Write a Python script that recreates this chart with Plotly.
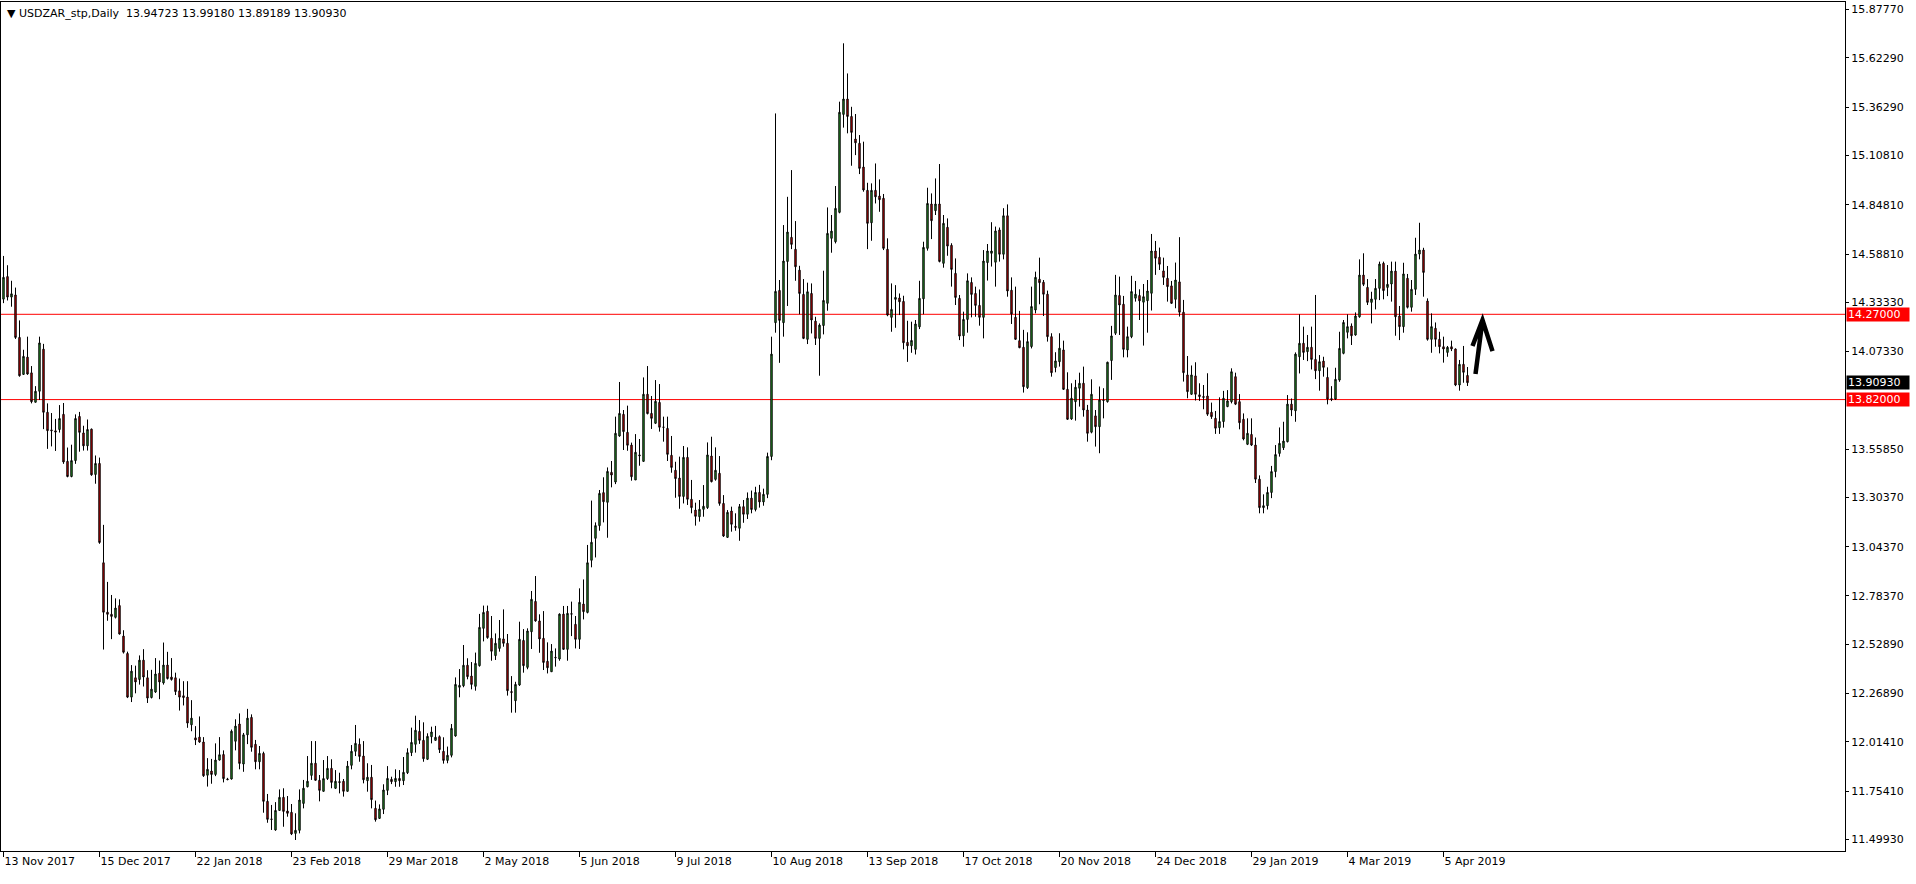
import plotly.graph_objects as go

# ---------------- data ----------------
symbol_title = "\u25BC USDZAR_stp,Daily  13.94723 13.99180 13.89189 13.90930"

date_labels = ["13 Nov 2017", "15 Dec 2017", "22 Jan 2018", "23 Feb 2018", "29 Mar 2018",
               "2 May 2018", "5 Jun 2018", "9 Jul 2018", "10 Aug 2018", "13 Sep 2018",
               "17 Oct 2018", "20 Nov 2018", "24 Dec 2018", "29 Jan 2019", "4 Mar 2019",
               "5 Apr 2019"]
bars_per_label = 24

price_ticks = [15.8777, 15.6229, 15.3629, 15.1081, 14.8481, 14.5881, 14.3333, 14.0733,
               13.5585, 13.3037, 13.0437, 12.7837, 12.5289, 12.2689, 12.0141, 11.7541, 11.4993]

level_lines = [14.27, 13.82]
last_price = 13.90930

arrow_x = [368.0, 369.75, 367.25, 372.25]
arrow_y = [13.955, 14.240, 14.103, 14.076]

open_ = [
    14.350, 14.469, 14.361, 14.372, 14.148, 13.953, 14.044, 13.961, 13.806, 13.864,
    14.086, 13.753, 13.660, 13.655, 13.662, 13.742, 13.494, 13.414, 13.498, 13.731,
    13.644, 13.576, 13.664, 13.425, 13.483, 12.959, 12.698, 12.687, 12.671, 12.733,
    12.572, 12.480, 12.250, 12.352, 12.343, 12.445, 12.352, 12.248, 12.277, 12.376,
    12.325, 12.419, 12.356, 12.352, 12.283, 12.257, 12.250, 12.104, 12.035, 12.039,
    12.013, 11.838, 11.860, 11.842, 11.918, 11.947, 11.818, 11.818, 12.017, 12.108,
    11.897, 12.051, 12.143, 12.001, 11.909, 11.953, 11.700, 11.607, 11.549, 11.652,
    11.721, 11.649, 11.642, 11.531, 11.547, 11.689, 11.777, 11.837, 11.901, 11.811,
    11.753, 11.820, 11.874, 11.769, 11.804, 11.806, 11.753, 11.890, 11.964, 12.001,
    11.939, 11.809, 11.827, 11.663, 11.610, 11.658, 11.758, 11.816, 11.804, 11.821,
    11.809, 11.851, 11.957, 12.001, 12.069, 12.022, 11.922, 12.041, 12.022, 12.041,
    11.964, 11.916, 11.943, 12.045, 12.302, 12.310, 12.418, 12.361, 12.307, 12.416,
    12.613, 12.703, 12.560, 12.469, 12.507, 12.557, 12.534, 12.279, 12.231, 12.314,
    12.549, 12.407, 12.595, 12.755, 12.652, 12.560, 12.439, 12.384, 12.460, 12.451,
    12.688, 12.502, 12.690, 12.634, 12.555, 12.741, 12.697, 12.972, 13.088, 13.155,
    13.329, 13.278, 13.436, 13.385, 13.628, 13.742, 13.647, 13.580, 13.396, 13.528,
    13.494, 13.848, 13.747, 13.695, 13.805, 13.675, 13.668, 13.526, 13.447, 13.406,
    13.309, 13.515, 13.294, 13.237, 13.202, 13.241, 13.250, 13.522, 13.399, 13.431,
    13.272, 13.093, 13.232, 13.151, 13.141, 13.255, 13.215, 13.300, 13.240, 13.330,
    13.280, 13.320, 13.520, 14.226, 14.396, 14.226, 14.549, 14.676, 14.613, 14.503,
    14.375, 14.138, 14.380, 14.234, 14.143, 14.211, 14.328, 14.671, 14.653, 14.808,
    15.325, 15.406, 15.314, 15.195, 15.172, 15.047, 14.924, 14.753, 14.924, 14.894,
    14.882, 14.613, 14.254, 14.349, 14.356, 14.338, 14.122, 14.104, 14.085, 14.204,
    14.352, 14.618, 14.852, 14.817, 14.852, 14.539, 14.729, 14.634, 14.486, 14.354,
    14.157, 14.243, 14.438, 14.380, 14.317, 14.254, 14.543, 14.592, 14.545, 14.715,
    14.587, 14.790, 14.397, 14.254, 14.131, 14.096, 13.883, 14.100, 14.293, 14.455,
    14.439, 14.376, 14.152, 13.989, 14.020, 14.082, 13.874, 13.718, 13.809, 13.880,
    13.906, 13.765, 13.648, 13.734, 13.677, 13.816, 13.809, 14.026, 14.170, 14.369,
    14.323, 14.082, 14.152, 14.355, 14.369, 14.334, 14.342, 14.381, 14.604, 14.571,
    14.499, 14.460, 14.420, 14.349, 14.441, 14.281, 13.950, 13.848, 13.945, 13.845,
    13.836, 13.839, 13.753, 13.721, 13.672, 13.704, 13.783, 13.809, 13.941, 13.809,
    13.716, 13.584, 13.636, 13.580, 13.400, 13.250, 13.260, 13.330, 13.440, 13.536,
    13.566, 13.598, 13.796, 13.761, 14.046, 14.117, 14.073, 14.096, 14.032, 13.972,
    14.023, 13.937, 13.825, 13.823, 13.923, 14.064, 14.175, 14.208, 14.161, 14.257,
    14.477, 14.412, 14.333, 14.349, 14.407, 14.539, 14.412, 14.430, 14.498, 14.261,
    14.205, 14.460, 14.307, 14.402, 14.588, 14.609, 14.340, 14.138, 14.196, 14.138,
    14.099, 14.069, 14.099, 14.087, 13.897, 14.006, 13.94723,
]

high = [
    14.578, 14.529, 14.447, 14.411, 14.238, 14.083, 14.152, 13.997, 13.891, 14.152,
    14.114, 13.800, 13.749, 13.718, 13.791, 13.802, 13.567, 13.582, 13.742, 13.755,
    13.682, 13.715, 13.667, 13.525, 13.514, 13.159, 12.858, 12.789, 12.771, 12.766,
    12.603, 12.490, 12.419, 12.416, 12.470, 12.503, 12.392, 12.394, 12.456, 12.443,
    12.538, 12.489, 12.456, 12.379, 12.348, 12.334, 12.334, 12.234, 12.097, 12.148,
    12.039, 11.928, 11.924, 12.006, 12.039, 11.969, 11.824, 12.079, 12.133, 12.164,
    12.061, 12.188, 12.159, 12.024, 11.992, 11.962, 11.739, 11.681, 11.696, 11.763,
    11.769, 11.728, 11.686, 11.637, 11.763, 11.813, 11.939, 12.018, 12.018, 11.839,
    11.918, 11.939, 11.922, 11.865, 11.851, 11.818, 11.913, 11.997, 12.103, 12.032,
    12.018, 11.901, 11.892, 11.704, 11.684, 11.790, 11.886, 11.830, 11.869, 11.865,
    11.934, 11.980, 12.089, 12.152, 12.129, 12.117, 12.059, 12.094, 12.098, 12.048,
    12.038, 11.989, 12.108, 12.354, 12.398, 12.525, 12.455, 12.435, 12.485, 12.689,
    12.733, 12.733, 12.678, 12.586, 12.657, 12.713, 12.583, 12.361, 12.331, 12.648,
    12.609, 12.613, 12.810, 12.889, 12.687, 12.704, 12.539, 12.530, 12.507, 12.692,
    12.731, 12.731, 12.754, 12.678, 12.824, 12.871, 13.053, 13.287, 13.172, 13.343,
    13.410, 13.462, 13.496, 13.730, 13.913, 13.765, 13.788, 13.593, 13.638, 13.612,
    13.937, 13.997, 13.839, 13.923, 13.902, 13.730, 13.730, 13.628, 13.492, 13.519,
    13.575, 13.568, 13.396, 13.276, 13.290, 13.369, 13.594, 13.624, 13.568, 13.522,
    13.316, 13.237, 13.255, 13.220, 13.269, 13.290, 13.330, 13.340, 13.360, 13.370,
    13.350, 13.540, 14.152, 15.330, 14.451, 14.741, 14.890, 15.031, 14.762, 14.526,
    14.456, 14.437, 14.433, 14.257, 14.222, 14.500, 14.834, 14.794, 14.947, 15.392,
    15.700, 15.541, 15.365, 15.327, 15.216, 15.181, 14.964, 14.961, 15.066, 14.982,
    14.905, 14.671, 14.433, 14.424, 14.380, 14.368, 14.236, 14.231, 14.240, 14.447,
    14.653, 14.938, 14.908, 14.987, 15.063, 14.794, 14.776, 14.645, 14.565, 14.372,
    14.284, 14.486, 14.465, 14.416, 14.401, 14.609, 14.641, 14.756, 14.733, 14.728,
    14.830, 14.850, 14.465, 14.416, 14.288, 14.188, 14.175, 14.416, 14.495, 14.569,
    14.451, 14.395, 14.170, 14.070, 14.170, 14.131, 13.964, 13.906, 13.924, 13.962,
    13.994, 13.792, 13.927, 13.765, 13.889, 13.880, 14.020, 14.209, 14.478, 14.469,
    14.367, 14.205, 14.473, 14.446, 14.402, 14.430, 14.451, 14.694, 14.657, 14.622,
    14.569, 14.525, 14.446, 14.543, 14.677, 14.346, 14.050, 14.000, 14.017, 13.906,
    13.897, 13.959, 13.804, 13.760, 13.832, 13.866, 13.870, 13.985, 13.962, 13.849,
    13.747, 13.721, 13.721, 13.620, 13.420, 13.320, 13.360, 13.470, 13.580, 13.673,
    13.703, 13.844, 13.826, 14.069, 14.270, 14.205, 14.161, 14.205, 14.372, 14.055,
    14.046, 13.990, 13.891, 13.988, 14.178, 14.240, 14.270, 14.222, 14.280, 14.560,
    14.592, 14.456, 14.389, 14.456, 14.548, 14.548, 14.530, 14.548, 14.548, 14.314,
    14.542, 14.483, 14.451, 14.674, 14.753, 14.621, 14.354, 14.275, 14.227, 14.178,
    14.152, 14.103, 14.131, 14.090, 14.029, 14.103, 13.99180,
]

low = [
    14.329, 14.343, 14.310, 14.140, 13.941, 13.950, 13.951, 13.800, 13.805, 13.818,
    13.664, 13.560, 13.573, 13.549, 13.646, 13.481, 13.410, 13.410, 13.481, 13.545,
    13.551, 13.551, 13.418, 13.376, 13.059, 12.501, 12.653, 12.556, 12.665, 12.580,
    12.480, 12.245, 12.224, 12.270, 12.316, 12.306, 12.219, 12.243, 12.272, 12.239,
    12.316, 12.343, 12.337, 12.261, 12.179, 12.206, 12.088, 12.070, 11.997, 12.009,
    11.829, 11.778, 11.793, 11.833, 11.915, 11.800, 11.811, 11.815, 11.969, 11.869,
    11.856, 12.002, 11.962, 11.869, 11.869, 11.640, 11.587, 11.549, 11.545, 11.651,
    11.566, 11.619, 11.522, 11.496, 11.531, 11.663, 11.774, 11.813, 11.809, 11.700,
    11.751, 11.813, 11.769, 11.765, 11.742, 11.725, 11.751, 11.869, 11.939, 11.909,
    11.795, 11.751, 11.663, 11.593, 11.607, 11.633, 11.733, 11.791, 11.777, 11.777,
    11.786, 11.844, 11.939, 11.957, 12.003, 11.909, 11.918, 12.006, 12.020, 11.955,
    11.899, 11.901, 11.932, 12.041, 12.249, 12.302, 12.344, 12.291, 12.284, 12.411,
    12.544, 12.558, 12.442, 12.446, 12.490, 12.516, 12.258, 12.168, 12.168, 12.309,
    12.379, 12.397, 12.504, 12.648, 12.484, 12.393, 12.375, 12.384, 12.411, 12.442,
    12.499, 12.442, 12.572, 12.507, 12.504, 12.660, 12.692, 12.935, 12.987, 13.128,
    13.172, 13.091, 13.357, 13.374, 13.624, 13.554, 13.550, 13.392, 13.396, 13.471,
    13.492, 13.742, 13.665, 13.691, 13.651, 13.598, 13.496, 13.434, 13.302, 13.244,
    13.272, 13.264, 13.220, 13.155, 13.176, 13.202, 13.243, 13.383, 13.392, 13.260,
    13.095, 13.090, 13.123, 13.128, 13.075, 13.170, 13.190, 13.220, 13.230, 13.250,
    13.260, 13.300, 13.500, 14.173, 14.014, 14.152, 14.314, 14.614, 14.447, 14.270,
    14.139, 14.113, 14.169, 14.108, 13.946, 14.164, 14.289, 14.595, 14.644, 14.803,
    15.255, 15.225, 15.054, 15.110, 15.010, 14.917, 14.614, 14.658, 14.855, 14.811,
    14.609, 14.260, 14.178, 14.199, 14.266, 14.085, 14.019, 14.067, 14.058, 14.192,
    14.270, 14.606, 14.667, 14.794, 14.544, 14.516, 14.579, 14.416, 14.319, 14.134,
    14.099, 14.173, 14.254, 14.257, 14.210, 14.143, 14.448, 14.522, 14.416, 14.548,
    14.560, 14.363, 14.219, 14.135, 14.091, 13.857, 13.876, 14.090, 14.275, 14.323,
    14.261, 14.126, 13.941, 13.964, 13.994, 13.871, 13.713, 13.713, 13.709, 13.783,
    13.730, 13.598, 13.642, 13.572, 13.537, 13.721, 13.804, 13.924, 14.161, 14.161,
    14.043, 14.043, 14.144, 14.337, 14.240, 14.105, 14.173, 14.290, 14.478, 14.504,
    14.425, 14.337, 14.325, 14.302, 14.258, 13.915, 13.827, 13.845, 13.815, 13.813,
    13.769, 13.734, 13.718, 13.639, 13.639, 13.672, 13.780, 13.800, 13.791, 13.663,
    13.605, 13.580, 13.575, 13.380, 13.220, 13.220, 13.240, 13.300, 13.410, 13.519,
    13.554, 13.594, 13.733, 13.703, 13.958, 14.029, 14.023, 13.979, 13.928, 13.867,
    13.941, 13.795, 13.812, 13.818, 13.914, 14.059, 14.143, 14.108, 14.157, 14.252,
    14.419, 14.319, 14.222, 14.296, 14.345, 14.349, 14.366, 14.337, 14.157, 14.134,
    14.173, 14.301, 14.284, 14.372, 14.560, 14.363, 14.131, 14.067, 14.099, 14.064,
    14.015, 14.046, 14.076, 13.891, 13.867, 13.909, 13.89189,
]

close = [
    14.465, 14.361, 14.378, 14.148, 13.946, 14.048, 13.955, 13.809, 13.864, 14.119,
    13.753, 13.656, 13.656, 13.649, 13.720, 13.491, 13.414, 13.498, 13.720, 13.647,
    13.576, 13.662, 13.423, 13.483, 13.066, 12.698, 12.687, 12.676, 12.720, 12.583,
    12.487, 12.250, 12.387, 12.330, 12.445, 12.356, 12.245, 12.292, 12.372, 12.330,
    12.419, 12.348, 12.343, 12.279, 12.250, 12.248, 12.113, 12.139, 12.024, 12.013,
    11.835, 11.869, 11.842, 11.918, 11.946, 11.820, 11.815, 12.070, 12.097, 11.900,
    12.051, 12.139, 11.985, 11.909, 11.953, 11.700, 11.605, 11.605, 11.652, 11.721,
    11.647, 11.637, 11.528, 11.547, 11.707, 11.769, 11.806, 11.901, 11.811, 11.758,
    11.820, 11.874, 11.800, 11.806, 11.800, 11.753, 11.886, 11.964, 12.006, 11.937,
    11.814, 11.827, 11.709, 11.603, 11.660, 11.760, 11.821, 11.804, 11.821, 11.809,
    11.853, 11.957, 12.011, 12.075, 12.022, 11.925, 12.043, 12.066, 12.038, 11.973,
    11.916, 11.943, 12.085, 12.317, 12.312, 12.418, 12.358, 12.317, 12.428, 12.618,
    12.697, 12.564, 12.492, 12.534, 12.560, 12.534, 12.284, 12.275, 12.317, 12.555,
    12.416, 12.599, 12.766, 12.652, 12.557, 12.433, 12.405, 12.493, 12.458, 12.688,
    12.502, 12.692, 12.688, 12.555, 12.750, 12.701, 12.959, 13.067, 13.155, 13.325,
    13.281, 13.441, 13.422, 13.642, 13.747, 13.651, 13.579, 13.413, 13.542, 13.524,
    13.848, 13.746, 13.721, 13.811, 13.674, 13.674, 13.531, 13.462, 13.403, 13.309,
    13.515, 13.294, 13.250, 13.204, 13.241, 13.257, 13.528, 13.387, 13.447, 13.272,
    13.100, 13.225, 13.162, 13.146, 13.255, 13.215, 13.300, 13.240, 13.330, 13.280,
    13.320, 13.520, 14.060, 14.391, 14.238, 14.551, 14.704, 14.639, 14.521, 14.380,
    14.143, 14.389, 14.240, 14.143, 14.213, 14.343, 14.697, 14.709, 14.829, 15.336,
    15.406, 15.314, 15.230, 15.175, 15.040, 14.926, 14.750, 14.924, 14.890, 14.875,
    14.618, 14.266, 14.296, 14.359, 14.336, 14.120, 14.104, 14.132, 14.219, 14.354,
    14.623, 14.855, 14.764, 14.852, 14.549, 14.750, 14.630, 14.507, 14.359, 14.155,
    14.243, 14.447, 14.375, 14.317, 14.254, 14.551, 14.604, 14.604, 14.710, 14.587,
    14.790, 14.393, 14.272, 14.138, 14.094, 13.888, 14.126, 14.311, 14.465, 14.437,
    14.376, 14.152, 13.962, 14.024, 14.091, 13.874, 13.716, 13.827, 13.885, 13.906,
    13.765, 13.642, 13.848, 13.677, 13.818, 13.815, 14.017, 14.156, 14.372, 14.319,
    14.085, 14.152, 14.390, 14.376, 14.341, 14.363, 14.393, 14.604, 14.566, 14.534,
    14.465, 14.416, 14.328, 14.451, 14.281, 13.962, 13.862, 13.950, 13.848, 13.836,
    13.832, 13.743, 13.730, 13.669, 13.704, 13.827, 13.813, 13.967, 13.796, 13.698,
    13.612, 13.642, 13.580, 13.400, 13.250, 13.260, 13.330, 13.440, 13.530, 13.589,
    13.601, 13.796, 13.765, 14.060, 14.117, 14.069, 14.096, 14.032, 13.972, 14.020,
    13.990, 13.823, 13.821, 13.927, 14.090, 14.227, 14.205, 14.157, 14.261, 14.477,
    14.428, 14.333, 14.351, 14.407, 14.535, 14.395, 14.428, 14.498, 14.257, 14.205,
    14.483, 14.307, 14.402, 14.588, 14.609, 14.491, 14.138, 14.205, 14.138, 14.099,
    14.087, 14.096, 14.087, 13.897, 14.006, 13.964, 13.90930,
]

# ---------------- figure ----------------
FONT = "DejaVu Sans"
bar_index = list(range(len(close)))

fig = go.Figure()
fig.add_trace(go.Candlestick(
    x=bar_index, open=open_, high=high, low=low, close=close,
    increasing=dict(line=dict(color="#000000", width=1), fillcolor="#2FB52F"),
    decreasing=dict(line=dict(color="#000000", width=1), fillcolor="#F00000"),
    whiskerwidth=0, hoverinfo="skip", showlegend=False,
))

for lvl in level_lines:
    fig.add_hline(y=lvl, line=dict(color="#FF0000", width=1), layer="below")
    fig.add_annotation(xref="paper", x=1, xanchor="left", xshift=1, yref="y", y=lvl,
                       yanchor="middle", text=f"{lvl:.5f}", showarrow=False,
                       font=dict(family=FONT, size=11, color="white"),
                       bgcolor="#FF0000", width=60, height=11, borderpad=1, align="left")

fig.add_annotation(xref="paper", x=1, xanchor="left", xshift=1, yref="y", y=last_price,
                   yanchor="middle", text=f"{last_price:.5f}", showarrow=False,
                   font=dict(family=FONT, size=11, color="white"),
                   bgcolor="#000000", width=60, height=11, borderpad=1, align="left")

fig.add_annotation(xref="paper", x=0, xanchor="left", xshift=2, yref="paper", y=1,
                   yanchor="top", yshift=-1, text=symbol_title, showarrow=False,
                   font=dict(family=FONT, size=11, color="black"),
                   bgcolor="white", borderpad=3)

# hand-drawn arrow
fig.add_shape(type="path",
              path=(f"M {arrow_x[0]} {arrow_y[0]} L {arrow_x[1]} {arrow_y[1]} "
                    f"M {arrow_x[2]} {arrow_y[2]} L {arrow_x[1]} {arrow_y[1]} L {arrow_x[3]} {arrow_y[3]}"),
              xref="x", yref="y", line=dict(color="black", width=4.5))

fig.update_layout(
    width=1916, height=884,
    margin=dict(l=1, r=71, t=2, b=33),
    paper_bgcolor="white", plot_bgcolor="white",
    font=dict(family=FONT, size=11, color="black"),
    boxgap=0.5,
    hovermode=False,
    xaxis=dict(
        range=[-0.625, 460.375], rangeslider=dict(visible=False),
        tickvals=[i * bars_per_label for i in range(len(date_labels))],
        ticktext=date_labels, ticklabelposition="outside right",
        ticks="outside", ticklen=5, tickcolor="black", tickwidth=1,
        showgrid=False, zeroline=False, showline=True, linecolor="black",
        linewidth=1, mirror=True, tickfont=dict(family=FONT, size=11),
    ),
    yaxis=dict(
        side="right", range=[11.438, 15.918],
        tickvals=price_ticks, ticktext=[f"{v:.5f}" for v in price_ticks],
        ticks="outside", ticklen=3, tickcolor="black",
        showgrid=False, zeroline=False, showline=True, linecolor="black",
        linewidth=1, mirror=True, tickfont=dict(family=FONT, size=11),
    ),
)

fig.write_html("out.html", config={"displayModeBar": False},
               post_script="document.body.style.margin='0';document.body.style.overflow='hidden';")
